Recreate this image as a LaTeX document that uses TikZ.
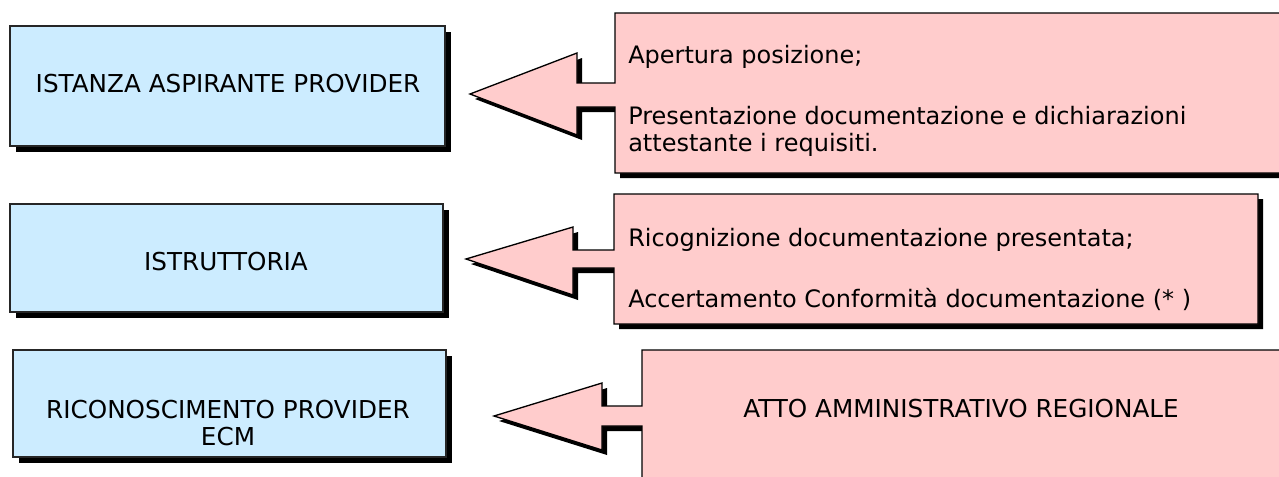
\documentclass[tikz,border=0pt]{standalone}
\usepackage{fontspec}
\setmainfont{DejaVu Sans}
\usetikzlibrary{shadows}
\definecolor{boxblue}{HTML}{CCECFF}
\definecolor{boxpink}{HTML}{FFCCCC}
\tikzset{
  stagebox/.style={draw=black!85, fill=boxblue, line width=1pt, inner sep=0pt,
    drop shadow={shadow xshift=4.5pt, shadow yshift=-4.5pt, opacity=1, fill=black}},
  calloutshape/.style={draw=black, fill=boxpink, line width=1pt, line join=miter},
  calloutshadow/.style={fill=black, shift={(5,5)}},
  lbl/.style={font=\fontsize{18}{22}\selectfont, inner sep=0pt, text=black},
  capslbl/.style={font=\fontsize{18.5}{22}\selectfont, inner sep=0pt, text=black},
  cOne/.style={insert path={(615,13) -- (1300,13) -- (1300,173) -- (615,173) -- (615,107) -- (577,107) -- (577,135) -- (470,94) -- (577,53) -- (577,83) -- (615,83) -- cycle}},
  cTwo/.style={insert path={(614,194) -- (1258,194) -- (1258,324) -- (614,324) -- (614,268) -- (573,268) -- (573,295) -- (466,259) -- (573,227) -- (573,250) -- (614,250) -- cycle}},
  cThree/.style={insert path={(642,350) -- (1300,350) -- (1300,500) -- (642,500) -- (642,426) -- (602,426) -- (602,450) -- (494,416) -- (602,383) -- (602,406) -- (642,406) -- cycle}}
}
\begin{document}
\begin{tikzpicture}[x=0.75pt,y=-0.75pt]
\useasboundingbox (0,0) rectangle (1279,476);
\clip (0,0) rectangle (1279,476);
% stage boxes
\node[stagebox, minimum width={435*0.75pt}, minimum height={120*0.75pt}] (b1) at (227.5,86) {};
\node[stagebox, minimum width={433*0.75pt}, minimum height={108*0.75pt}] (b2) at (226.5,258) {};
\node[stagebox, minimum width={433*0.75pt}, minimum height={107*0.75pt}] (b3) at (229.5,403.5) {};
\node[capslbl, anchor=base] (t1) at (228,92) {ISTANZA ASPIRANTE PROVIDER};
\node[capslbl, anchor=base] (t2) at (226,270) {ISTRUTTORIA};
\node[capslbl, anchor=base] (t3a) at (228,418) {RICONOSCIMENTO PROVIDER};
\node[capslbl, anchor=base] (t3b) at (228,445) {ECM};
% callouts
\path[calloutshadow, cOne];
\path[calloutshape, cOne];
\path[calloutshadow, cTwo];
\path[calloutshape, cTwo];
\path[calloutshadow, cThree];
\path[calloutshape, cThree];
\node[lbl, anchor=base west] (c1a) at (628,63) {Apertura posizione;};
\node[lbl, anchor=base west] (c1b) at (628,124) {Presentazione documentazione e dichiarazioni};
\node[lbl, anchor=base west] (c1c) at (628,151) {attestante i requisiti.};
\node[lbl, anchor=base west] (c2a) at (628,246) {Ricognizione documentazione presentata;};
\node[lbl, anchor=base west] (c2b) at (628,307) {Accertamento Conformità documentazione (* )};
\node[capslbl, anchor=base] (c3) at (961,417) {ATTO AMMINISTRATIVO REGIONALE};
\end{tikzpicture}
\end{document}
